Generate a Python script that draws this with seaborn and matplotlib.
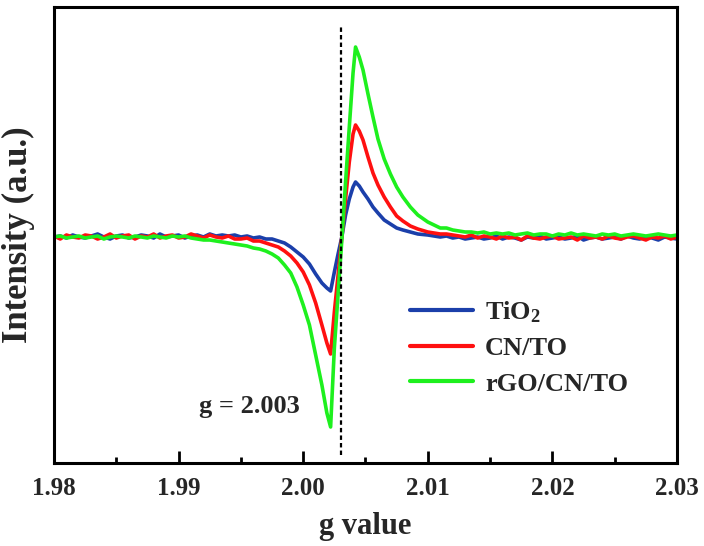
import numpy as np
import pandas as pd
import matplotlib
matplotlib.use("Agg")
import matplotlib.pyplot as plt
import seaborn as sns

# ---------------- data ----------------
g_left = [1.980, 1.9805, 1.981, 1.9815, 1.982, 1.9825, 1.983, 1.9835, 1.984, 1.9845,
          1.985, 1.9855, 1.986, 1.9865, 1.987, 1.9875, 1.988, 1.9885, 1.989, 1.9895,
          1.990, 1.9905, 1.991, 1.9915, 1.992, 1.9925, 1.993, 1.9935, 1.994, 1.9945]
g_mid = [1.995, 1.9955, 1.996, 1.9965, 1.997, 1.9975, 1.998, 1.9985, 1.999, 1.9995,
         2.000, 2.0005, 2.001, 2.0015, 2.0019, 2.0022, 2.0025, 2.0028, 2.0031, 2.0034,
         2.0037, 2.0040, 2.0042, 2.0045, 2.0048, 2.0052, 2.0056, 2.0060, 2.0065, 2.0070,
         2.0075, 2.0080, 2.0086, 2.0092, 2.0100]
g_right = [2.0105, 2.011, 2.0115, 2.012, 2.0125, 2.013, 2.0135, 2.014, 2.0145, 2.015,
           2.0155, 2.016, 2.0165, 2.017, 2.0175, 2.018, 2.0185, 2.019, 2.0195, 2.020,
           2.0205, 2.021, 2.0215, 2.022, 2.0225, 2.023, 2.0235, 2.024, 2.0245, 2.025,
           2.0255, 2.026, 2.0265, 2.027, 2.0275, 2.028, 2.0285, 2.029, 2.0295, 2.030]
g_values = g_left + g_mid + g_right

tio2 = ([0, 1, -1, 2, 0, -1, 1, 3, 0, -2, 1, 2, -1, 0, 2, 1, -1, 3, 0, 1,
         2, -1, 1, 2, 0, 3, 1, 2, 1, 2]
        + [0, 1, -1, 0, -2, -2, -4, -6, -10, -15, -20, -27, -37, -46, -51, -54, -35, -17, 0, 22,
           38, 50, 55, 51, 45, 38, 30, 24, 17, 13, 9, 7, 5, 3, 2]
        + [1, 0, 1, -1, 0, -2, -1, 0, -2, -1, 1, -2, 0, -1, -3, 0, -1, 1, -2, -1,
           0, -2, -1, 1, -3, -1, 0, -2, -1, 0, -2, 1, -1, -2, 0, -1, -3, 0, -1, -2])
cn_to = ([1, -2, 2, 0, -1, 2, 1, -2, 0, 3, -1, 1, 2, -2, 1, 0, 3, -1, 1, 2,
          -1, 0, 3, 1, -1, 2, 0, -1, 1, -2]
         + [-2, -1, -4, -4, -6, -8, -10, -14, -19, -26, -35, -48, -66, -88, -106, -117, -75, -38, 0, 38,
            75, 103, 112, 106, 97, 80, 64, 52, 40, 30, 21, 16, 11, 8, 5]
         + [4, 3, 3, 2, 1, 0, 2, -1, 1, 0, -2, 1, -1, 0, -3, 1, -1, -2, 0, 1,
            -2, -1, 0, -3, 1, -1, 0, -2, 1, -1, -2, 0, 1, -1, -3, 0, -1, 1, -2, 0])
rgo_cn_to = ([0, 1, -1, 0, 1, -1, 0, 1, -2, 0, 1, 0, -1, 1, 0, -1, 1, 0, -1, 1,
              0, 1, -1, -2, -3, -3, -4, -5, -6, -7]
             + [-8, -9, -11, -12, -14, -17, -21, -28, -36, -50, -68, -88, -118, -148, -176, -190, -111, -57, -3, 55,
                110, 164, 190, 180, 167, 143, 120, 98, 78, 63, 50, 40, 30, 22, 15]
             + [12, 9, 9, 7, 6, 5, 5, 4, 5, 3, 4, 3, 4, 2, 3, 4, 2, 3, 3, 1,
                3, 2, 4, 2, 3, 2, 1, 3, 2, 3, 1, 2, 3, 2, 1, 2, 3, 2, 1, 2])

samples = ["TiO$_2$", "CN/TO", "rGO/CN/TO"]
colors = ["#1b3faa", "#ff1010", "#1ef01e"]
g_marker = 2.003
g_text = "g = 2.003"
xtick_values = [1.98, 1.99, 2.00, 2.01, 2.02, 2.03]
xtick_labels = ["1.98", "1.99", "2.00", "2.01", "2.02", "2.03"]
xtick_minor = [1.985, 1.995, 2.005, 2.015, 2.025]

df = pd.concat([
    pd.DataFrame({"g": g_values, "intensity": vals, "sample": name})
    for name, vals in zip(samples, [tio2, cn_to, rgo_cn_to])
], ignore_index=True)

# ---------------- style ----------------
sns.set_style("white")
plt.rcParams["font.family"] = ["Liberation Serif", "DejaVu Serif"]
plt.rcParams["font.weight"] = "bold"
plt.rcParams["mathtext.fontset"] = "custom"
plt.rcParams["mathtext.rm"] = "Liberation Serif:bold"
plt.rcParams["mathtext.bf"] = "Liberation Serif:bold"
plt.rcParams["mathtext.default"] = "regular"

fig = plt.figure(figsize=(7.04, 5.46), dpi=100)
ax = fig.add_axes([54 / 704, 1 - 463 / 546, 623 / 704, 456 / 546])

sns.lineplot(data=df, x="g", y="intensity", hue="sample", hue_order=samples,
             palette=colors, linewidth=2.6, estimator=None, sort=False, ax=ax)

ax.axvline(g_marker, ymin=8 / 456, ymax=438 / 456,
           color="black", linestyle=(0, (2, 1.4)), linewidth=1.6, zorder=5)

ax.set_xlim(1.98, 2.03)
ax.set_ylim(-226, 230)
ax.set_xticks(xtick_values)
ax.set_xticklabels(xtick_labels)
ax.set_xticks(xtick_minor, minor=True)
ax.set_yticks([])
ax.tick_params(axis="x", which="both", bottom=True, top=False)
ax.tick_params(axis="x", which="major", direction="in", length=9, width=2.0,
               labelsize=18, pad=10, color="black")
ax.tick_params(axis="x", which="minor", direction="in", length=4.5, width=2.0, color="black")
for lab in ax.get_xticklabels():
    lab.set_fontweight("bold")

for sp in ax.spines.values():
    sp.set_visible(True)
    sp.set_linewidth(2.2)
    sp.set_color("black")

ax.set_xlabel("g value", fontsize=22, fontweight="bold", labelpad=9)
ax.set_ylabel("Intensity (a.u.)", fontsize=25, fontweight="bold", labelpad=14)

ax.text(1.99565, -170, g_text, fontsize=19, fontweight="bold", ha="center", va="center")

leg = ax.legend(loc="upper left", bbox_to_anchor=(0.571, 0.359), frameon=False,
                fontsize=19, handlelength=2.4, handletextpad=0.45, labelspacing=0.45,
                borderpad=0, borderaxespad=0)
for line in leg.get_lines():
    line.set_linewidth(3.0)

fig.savefig("out.png", dpi=100)
